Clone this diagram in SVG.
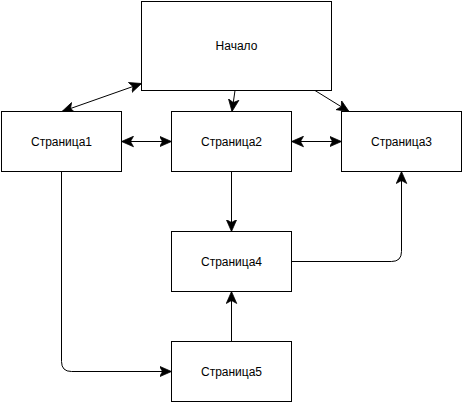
<svg xmlns="http://www.w3.org/2000/svg" width="462" height="402" viewBox="0 0 462 402">
<style>
.node rect{fill:#fff;stroke:#000;stroke-width:1}
.node text{font-family:"Liberation Sans",Arial,sans-serif;font-size:12px;fill:#000;text-anchor:middle}
.edges path{fill:none;stroke:#000;stroke-width:1}
.e2{marker-end:url(#arr);marker-start:url(#arr)}
.e1{marker-end:url(#arr)}
</style>
<defs>
<marker id="arr" markerUnits="userSpaceOnUse" markerWidth="12" markerHeight="12" viewBox="0 0 8 8" refX="8" refY="4" orient="auto-start-reverse">
<path d="M0,0.5 L8,4 L0,7.5 L2,4 Z" fill="#000" stroke="#000" stroke-width="0.5"/>
</marker>
</defs>
<rect width="462" height="402" fill="#fff"/>
<g class="edges">
<path class="e2" d="M141.5,83.5 L62,111.5"/>
<path class="e1" d="M235,90.5 L232,111.5"/>
<path class="e1" d="M315,90.5 L349,111.5"/>
<path class="e2" d="M121.5,141.5 L171.5,141.5"/>
<path class="e2" d="M291.5,141.5 L341.5,141.5"/>
<path class="e1" d="M231.5,171.5 L231.5,231.5"/>
<path class="e1" d="M291.5,261.5 L391.5,261.5 Q401.5,261.5 401.5,251.5 L401.5,171.5"/>
<path class="e1" d="M231.5,341.5 L231.5,291.5"/>
<path class="e1" d="M61.5,171.5 L61.5,361.5 Q61.5,371.5 71.5,371.5 L171.5,371.5"/>
</g>
<g id="nachalo" class="node"><rect x="141.5" y="1.5" width="190" height="89"/><text x="236.5" y="50">Начало</text></g>
<g id="page1" class="node"><rect x="1.5" y="111.5" width="120" height="60"/><text x="61.5" y="145.5">Страница1</text></g>
<g id="page2" class="node"><rect x="171.5" y="111.5" width="120" height="60"/><text x="231.5" y="145.5">Страница2</text></g>
<g id="page3" class="node"><rect x="341.5" y="111.5" width="120" height="60"/><text x="401.5" y="145.5">Страница3</text></g>
<g id="page4" class="node"><rect x="171.5" y="231.5" width="120" height="60"/><text x="231.5" y="265.5">Страница4</text></g>
<g id="page5" class="node"><rect x="171.5" y="341.5" width="120" height="60"/><text x="231.5" y="375.5">Страница5</text></g>
</svg>
